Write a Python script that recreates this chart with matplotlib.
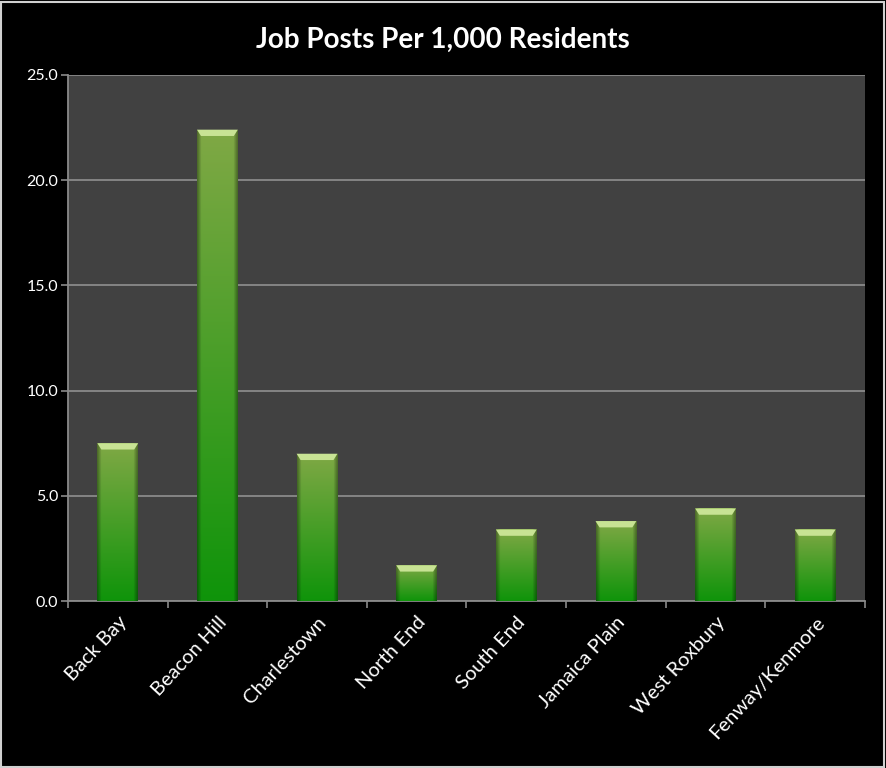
import numpy as np
import matplotlib.pyplot as plt
from matplotlib.patches import Polygon, Rectangle
from matplotlib.transforms import ScaledTranslation

# data
neighborhoods = ["Back Bay", "Beacon Hill", "Charlestown", "North End",
                 "South End", "Jamaica Plain", "West Roxbury", "Fenway/Kenmore"]
posts_per_1000 = [7.5, 22.4, 7.0, 1.7, 3.4, 3.8, 4.4, 3.4]

plt.rcParams["font.family"] = ["Lato", "DejaVu Sans"]

TOP = np.array([0.50, 0.66, 0.27])
BOT = np.array([0.06, 0.58, 0.04])


def bar_image(n=64):
    t = np.linspace(0, 1, n)[:, None, None]          # 0 top, 1 bottom
    col = TOP * (1 - t) + BOT * t
    xs = np.linspace(-1, 1, 32)
    shade = 1 - 0.35 * np.clip((np.abs(xs) - 0.8) / 0.2, 0, 1)
    return np.clip(col * shade[None, :, None], 0, 1)


fig = plt.figure(figsize=(8.86, 7.68), dpi=100, facecolor="black")
ax = fig.add_axes([0.0767, 0.2174, 0.8996, 0.685])
ax.set_facecolor("#414141")

x = np.arange(len(neighborhoods))
width = 0.41
img = bar_image()
bars = ax.bar(x, posts_per_1000, width=width, color="none", zorder=3)
for b, v in zip(bars, posts_per_1000):
    x0 = b.get_x()
    x1 = x0 + b.get_width()
    im = ax.imshow(img, extent=[x0, x1, 0, v], aspect="auto", zorder=3,
                   interpolation="bilinear")
    im.set_clip_path(b)
    # bevel cap at the top
    cap = 0.3
    inset = 0.04
    ax.add_patch(Polygon([[x0, v], [x1, v], [x1 - inset, v - cap], [x0 + inset, v - cap]],
                         closed=True, facecolor="#c8e394", edgecolor="none", zorder=4))

ax.set_xlim(-0.5, len(neighborhoods) - 0.5)
ax.set_ylim(0, 25)
ax.set_yticks(np.arange(0, 25.1, 5))
ax.set_yticklabels([f"{v:.1f}" for v in np.arange(0, 25.1, 5)])
ax.yaxis.grid(True, color="#8a8a8a", lw=1.3, zorder=1)
ax.set_axisbelow(True)

ax.set_xticks(x)
ax.set_xticklabels(neighborhoods, rotation=47, ha="right", rotation_mode="anchor")
shift = ScaledTranslation(10 / 100, 0, fig.dpi_scale_trans)
for lab in ax.get_xticklabels():
    lab.set_transform(lab.get_transform() + shift)
ax.set_xticks(np.arange(-0.5, len(neighborhoods)), minor=True)
ax.tick_params(axis="x", which="major", length=0, pad=9, labelsize=14.5, colors="white")
ax.tick_params(axis="x", which="minor", length=5, color="#8a8a8a", width=1.2)
ax.tick_params(axis="y", length=5, color="#8a8a8a", width=1.2, labelsize=11.5,
               labelcolor="white", pad=2)

for side in ("top", "right"):
    ax.spines[side].set_visible(False)
for side in ("left", "bottom"):
    ax.spines[side].set_color("#8a8a8a")
    ax.spines[side].set_linewidth(1.3)

fig.text(0.5, 0.948, "Job Posts Per 1,000 Residents", ha="center", va="center",
         color="white", fontsize=20, fontweight="bold")

fig.patches.append(Rectangle((0.001, 0.001), 0.997, 0.997, transform=fig.transFigure,
                             fill=False, edgecolor="#d0d0d0", lw=1.5))

fig.savefig("out.png", dpi=100, facecolor="black")
